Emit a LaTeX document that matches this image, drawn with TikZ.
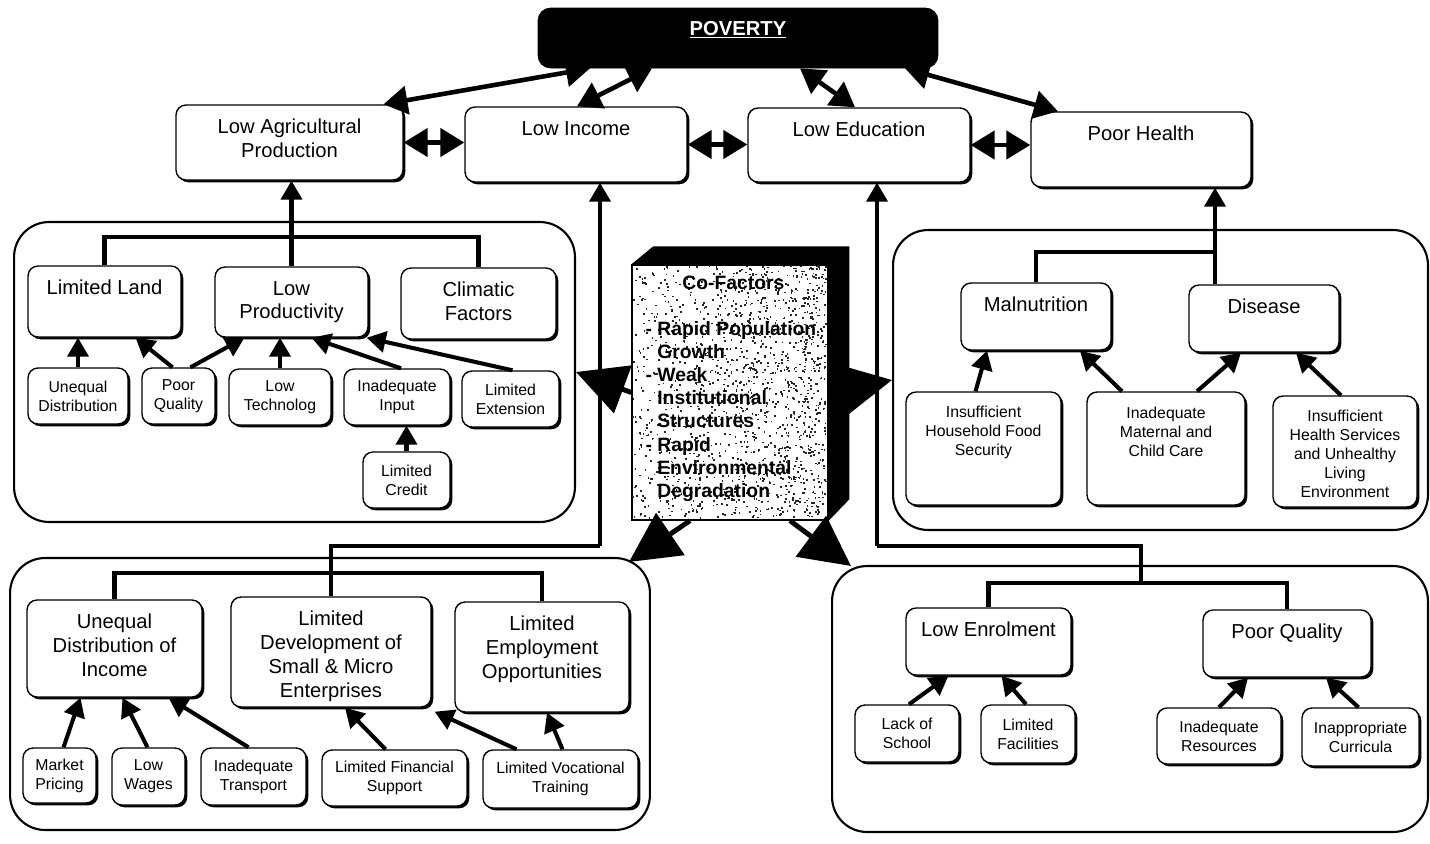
\documentclass[tikz,border=0pt]{standalone}
\usepackage{fontspec}
\setmainfont{Liberation Sans}
\usetikzlibrary{arrows.meta,calc,shadows}

\newcommand{\boxfont}{\fontsize{11.5}{13.6}\selectfont}
\newcommand{\notefont}{\fontsize{9}{10.8}\selectfont}
\newcommand{\coffont}{\fontsize{11}{13.2}\selectfont\bfseries}

\tikzset{
  sz/.style 2 args={minimum width=#1cm, minimum height=#2cm},
  cbox/.style={draw, fill=white, line width=0.8pt, rounded corners=0.2cm,
    drop shadow={shadow xshift=1.3pt, shadow yshift=-1.3pt, opacity=1, fill=black}},
  nbox/.style={cbox, align=center, font=\notefont, inner sep=1pt},
  ttl/.style={anchor=north, inner sep=0pt, align=center, font=\boxfont, yshift=#1},
  ttl/.default=-0.29cm,
  grp/.style={draw, line width=1.2pt, rounded corners=0.7cm},
  conn/.style={line width=2.3pt},
  arr/.style={conn, -{Triangle[length=0.38cm,width=0.42cm]}},
  darr/.style={line width=2.6pt, {Triangle[length=0.48cm,width=0.56cm]}-{Triangle[length=0.48cm,width=0.56cm]}},
  cofarr/.style={line width=2.8pt, -{Triangle[length=1cm,width=1cm]}},
  speck/.style={fill=black!85},
}

\begin{document}
\begin{tikzpicture}[x=0.02cm, y=-0.02cm]
  \useasboundingbox (0,0) rectangle (1430,843);

  % groups
  \node[grp, sz={11.22}{6}] (agrp) at (294.5,372) {};
  \node[grp, sz={10.7}{6}] (hgrp) at (1160.5,380) {};
  \node[grp, sz={12.8}{5.44}] (igrp) at (330,694) {};
  \node[grp, sz={11.92}{5.32}] (egrp) at (1130,699) {};

  % poverty and the four main causes
  \node[draw, fill=black, rounded corners=0.25cm, sz={8}{1.2},
    label={[ttl=-0.26cm, text=white, font=\boxfont\bfseries]north:\underline{POVERTY}}] (pov) at (738,38) {};
  \node[cbox, sz={4.54}{1.5}, label={[ttl]north:{Low Agricultural\\Production}}] (lap) at (289.5,142.5) {};
  \node[cbox, sz={4.44}{1.5}, label={[ttl]north:Low Income}] (li) at (576,144.5) {};
  \node[cbox, sz={4.44}{1.48}, label={[ttl]north:Low Education}] (led) at (859,145) {};
  \node[cbox, sz={4.4}{1.5}, label={[ttl]north:Poor Health}] (ph) at (1141,149.5) {};

  % agriculture
  \node[cbox, sz={3.06}{1.42}, label={[ttl]north:Limited Land}] (ll) at (104.5,301.5) {};
  \node[cbox, sz={3.06}{1.4}, label={[ttl]north:{Low\\Productivity}}] (lp) at (291.5,302) {};
  \node[cbox, sz={3.1}{1.42}, label={[ttl]north:{Climatic\\Factors}}] (cf) at (478.5,303.5) {};
  \node[nbox, sz={2}{1.12}] (ud) at (78,396) {Unequal\\Distribution};
  \node[nbox, sz={1.46}{1.12}] (pq) at (178.5,396) {Poor\\Quality};
  \node[nbox, sz={2.04}{1.12}] (lt) at (280,397) {Low\\Technolog};
  \node[nbox, sz={2.12}{1.12}] (ii) at (397,397) {Inadequate\\Input};
  \node[nbox, sz={1.94}{1.12}] (le) at (510.5,399) {Limited\\Extension};
  \node[nbox, sz={1.74}{1.12}] (lc) at (406.5,480) {Limited\\Credit};

  % health
  \node[cbox, sz={3}{1.34}, label={[ttl]north:Malnutrition}] (mal) at (1036,316.5) {};
  \node[cbox, sz={3}{1.34}, label={[ttl]north:Disease}] (dis) at (1264,318.5) {};
  \node[cbox, sz={3.1}{2.26}, label={[ttl=-0.28cm, font=\notefont]north:{Insufficient\\Household Food\\Security}}] (ihf) at (983.5,448.5) {};
  \node[cbox, sz={3.16}{2.26}, label={[ttl=-0.3cm, font=\notefont]north:{Inadequate\\Maternal and\\Child Care}}] (imc) at (1166,448.5) {};
  \node[cbox, sz={2.88}{2.22}, label={[ttl=-0.28cm, font=\notefont]north:{Insufficient\\Health Services\\and Unhealthy\\Living\\Environment}}] (ihs) at (1345,451.5) {};

  % income
  \node[cbox, sz={3.5}{1.94}, label={[ttl]north:{Unequal\\Distribution of\\Income}}] (udi) at (114.5,648.5) {};
  \node[cbox, sz={4}{2.2}, label={[ttl]north:{Limited\\Development of\\Small \& Micro\\Enterprises}}] (lds) at (331,652) {};
  \node[cbox, sz={3.48}{2.2}, label={[ttl]north:{Limited\\Employment\\Opportunities}}] (leo) at (542,657) {};
  \node[nbox, sz={1.46}{1.1}] (mp) at (59.5,775.5) {Market\\Pricing};
  \node[nbox, sz={1.46}{1.14}] (lw) at (148.5,776.5) {Low\\Wages};
  \node[nbox, sz={2.1}{1.14}] (it) at (253.5,776.5) {Inadequate\\Transport};
  \node[nbox, sz={2.9}{1.12}] (lfs) at (394.5,778) {Limited Financial\\Support};
  \node[nbox, sz={3.1}{1.16}] (lvt) at (560.5,779) {Limited Vocational\\Training};

  % education
  \node[cbox, sz={3.3}{1.34}, label={[ttl]north:Low Enrolment}] (lenr) at (988.5,641.5) {};
  \node[cbox, sz={3.36}{1.34}, label={[ttl]north:Poor Quality}] (pqe) at (1287,643.5) {};
  \node[nbox, sz={2.08}{1.14}] (los) at (907,733.5) {Lack of\\School};
  \node[nbox, sz={1.88}{1.16}] (lfa) at (1028,734) {Limited\\Facilities};
  \node[nbox, sz={2.48}{1.12}] (ire) at (1219,736) {Inadequate\\Resources};
  \node[nbox, sz={2.34}{1.16}] (icu) at (1360.5,737) {Inappropriate\\Curricula};

  % co-factors
  \node[draw, line width=0.8pt, fill=white, sz={3.92}{5.1}] (cof) at (730,392.5) {};
  \pgfmathsetseed{12}
  \foreach \k in {1,...,700}
    \fill[speck] ($(cof.north west)+({194*rnd},{253*rnd})$) rectangle ++(1.7,1.7);
  \foreach \k in {1,...,800}
    \fill[speck] ($(cof.north west)+({194*sqrt(rnd)},{253*rnd})$) rectangle ++(1.7,1.7);
  \fill (cof.north west) -- ++(22,-18) -- ++(196,0) -- ++(0,253) -- (cof.south east) -- (cof.north east) -- cycle;
  \node[anchor=north west, inner sep=0pt, align=left, font=\coffont] (cft) at (657,276) {%
    \hspace*{0.5cm}Co-Factors\\[0.44cm]
    \llap{- }Rapid Population\\
    Growth\\
    \llap{- }Weak\\
    Institutional\\
    Structures\\
    \llap{- }Rapid\\
    Environmental\\
    Degradation};

  % poverty links
  \draw[darr] ($(lap.north)+(94,0)$) -- ($(pov.south)+(-148,0)$);
  \draw[darr] ($(li.north)+(1,0)$) -- ($(pov.south)+(-86,0)$);
  \draw[darr] ($(pov.south)+(62,0)$) -- ($(led.north)+(-4,0)$);
  \draw[darr] ($(pov.south)+(167,0)$) -- ($(ph.north)+(-83,0)$);
  \draw[darr] (lap.east) -- (lap.east -| li.west);
  \draw[darr] (li.east) -- (li.east -| led.west);
  \draw[darr] (led.east) -- (led.east -| ph.west);

  % agriculture links
  \draw[arr] (lp.north) -- (lp.north |- lap.south);
  \draw[conn] (ll.north) -- ++(0,-28) -| (cf.north);
  \draw[arr] (ud.north) -- (ud.north |- ll.south);
  \draw[arr] ($(pq.north)+(-6,0)$) -- ($(ll.south)+(31,0)$);
  \draw[arr] ($(pq.north)+(12,0)$) -- ($(lp.south)+(-47,0)$);
  \draw[arr] (lt.north) -- (lt.north |- lp.south);
  \draw[arr] ($(ii.north)+(4,0)$) -- ($(lp.south)+(20,0)$);
  \draw[arr] ($(le.north)+(2,0)$) -- ($(lp.south east)+(-2,0)$);
  \draw[arr] (lc.north) -- (lc.north |- ii.south);

  % health links
  \coordinate (phj) at (1215,252);
  \draw[arr] (dis.north -| phj) -- (ph.south -| phj);
  \draw[conn] (mal.north) |- (phj);
  \draw[arr] ($(ihf.north)+(-8,0)$) -- ($(mal.south)+(-49,0)$);
  \draw[arr] ($(imc.north)+(-44,0)$) -- ($(mal.south)+(44,0)$);
  \draw[arr] ($(imc.north)+(31,0)$) -- ($(dis.south)+(-23,0)$);
  \draw[arr] ($(ihs.north)+(-4,0)$) -- ($(dis.south)+(32,0)$);

  % income links
  \coordinate (incj) at (600,546);
  \draw[arr] (incj) -- (incj |- li.south);
  \draw[conn] (incj) -| (lds.north);
  \draw[conn] (udi.north) -- ++(0,-26) -| (leo.north);
  \draw[arr] ($(mp.north)+(4,0)$) -- ($(udi.south)+(-34,0)$);
  \draw[arr] ($(lw.north)+(-1,0)$) -- ($(udi.south)+(8,0)$);
  \draw[arr] ($(it.north)+(-5,0)$) -- ($(udi.south)+(54,0)$);
  \draw[arr] ($(lfs.north)+(-9,0)$) -- ($(lds.south)+(14,0)$);
  \draw[arr] ($(lvt.north)+(-44,0)$) -- ($(lds.south east)+(3,4)$);
  \draw[arr] ($(lvt.north)+(2,0)$) -- ($(leo.south)+(5,0)$);

  % education links
  \coordinate (edj) at (877,546);
  \coordinate (edk) at (1141,583);
  \draw[arr] (edj) -- (edj |- led.south);
  \draw[conn] (edj) -| (edk);
  \draw[conn] (lenr.north) |- (edk) -| (pqe.north);
  \draw[arr] ($(los.north)+(2,0)$) -- ($(lenr.south)+(-40,0)$);
  \draw[arr] ($(lfa.north)+(-2,0)$) -- ($(lenr.south)+(13,0)$);
  \draw[arr] (ire.north) -- ($(pqe.south)+(-39,0)$);
  \draw[arr] ($(icu.north)+(-2,0)$) -- ($(pqe.south)+(39,0)$);

  % co-factors to the groups
  \draw[cofarr] (cof.west) -- (agrp.east);
  \draw[cofarr] (cof.east) -- (hgrp.west);
  \draw[cofarr] ($(cof.south)+(-40,0)$) -- ($(igrp.north east)+(-22,5)$);
  \draw[cofarr] ($(cof.south)+(60,0)$) -- ($(egrp.north west)+(20,1)$);
\end{tikzpicture}
\end{document}
